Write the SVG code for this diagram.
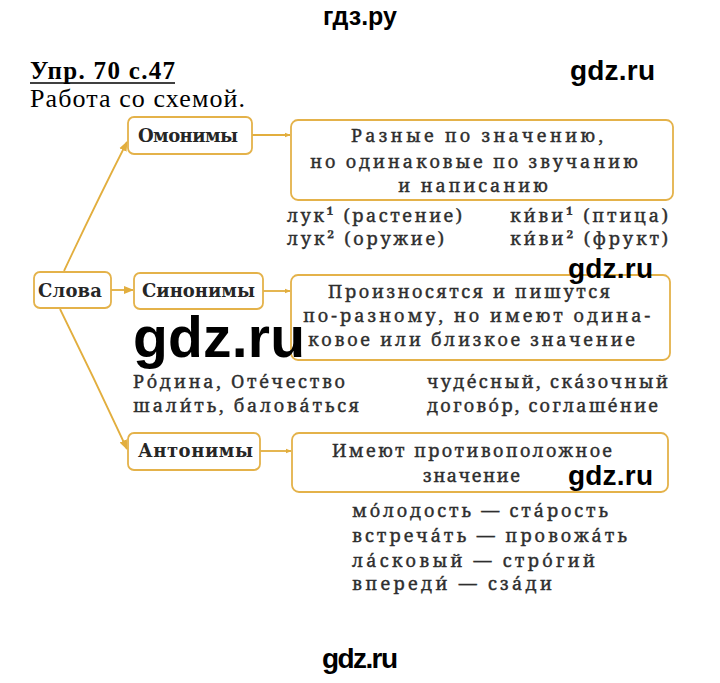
<svg xmlns="http://www.w3.org/2000/svg" width="720" height="683" viewBox="0 0 720 683">
<style>
.wm{font-family:"Liberation Sans",Arial,sans-serif;font-weight:bold;fill:#000}
.hd{font-family:"Liberation Serif","Times New Roman",serif;fill:#000}
.bx{fill:#fff;stroke:#e4b24a;stroke-width:1.8}
.lbl{font-family:"DejaVu Serif","Liberation Serif",serif;font-weight:bold;font-size:18px;fill:#262626}
.tx{font-family:"Noto Serif","Liberation Serif",serif;font-size:18px;fill:#2e2e2e;stroke:#2e2e2e;stroke-width:0.4}
.cn{fill:none;stroke:#e2ae3e;stroke-width:1.8}
</style>
<defs>
<marker id="ah" viewBox="0 0 10 10" refX="9" refY="5" markerWidth="10" markerHeight="10" markerUnits="userSpaceOnUse" orient="auto">
<path d="M0,1 L10,5 L0,9 Z" fill="#e2ae3e"/>
</marker>
<marker id="ahs" viewBox="0 0 10 10" refX="9" refY="5" markerWidth="6" markerHeight="6" markerUnits="userSpaceOnUse" orient="auto">
<path d="M0,1 L10,5 L0,9 Z" fill="#e2ae3e"/>
</marker>
</defs>
<rect width="720" height="683" fill="#fff"/>

<g id="header">
<text class="wm" x="360" y="25" font-size="25" text-anchor="middle" textLength="74">гдз.ру</text>
<text class="hd" x="30" y="79" font-size="25" font-weight="bold" textLength="145">Упр. 70 с.47</text>
<line x1="30" y1="83" x2="175" y2="83" stroke="#000" stroke-width="1.6"/>
<text class="wm" x="570" y="80" font-size="28" textLength="85">gdz.ru</text>
<text class="hd" x="30" y="107" font-size="26" textLength="215">Работа со схемой.</text>
</g>

<g id="connectors">
<path class="cn" d="M64,271 Q96,203 127,142" marker-end="url(#ah)"/>
<path class="cn" d="M60,309 Q94,378 127,449" marker-end="url(#ah)"/>
<line class="cn" x1="111" y1="290" x2="133" y2="290" marker-end="url(#ah)"/>
<line class="cn" x1="252" y1="135" x2="290" y2="135" marker-end="url(#ahs)"/>
<line class="cn" x1="263" y1="291" x2="290" y2="291" marker-end="url(#ahs)"/>
<line class="cn" x1="260" y1="451" x2="291" y2="451" marker-end="url(#ahs)"/>
</g>

<g id="node-slova">
<rect class="bx" x="34" y="272" width="77" height="36" rx="6"/>
<text class="lbl" x="38" y="297" textLength="64">Слова</text>
</g>
<g id="node-omonimy">
<rect class="bx" x="128" y="117" width="124" height="37" rx="6"/>
<text class="lbl" x="138" y="142" textLength="100">Омонимы</text>
</g>
<g id="node-sinonimy">
<rect class="bx" x="134" y="273" width="129" height="36" rx="6"/>
<text class="lbl" x="142" y="297" textLength="113">Синонимы</text>
</g>
<g id="node-antonimy">
<rect class="bx" x="128" y="433" width="132" height="37" rx="6"/>
<text class="lbl" x="138" y="457" textLength="115">Антонимы</text>
</g>

<g id="node-desc1">
<rect class="bx" x="291" y="120" width="382" height="80" rx="7"/>
<text class="tx" x="351" y="142" textLength="252">Разные по значению,</text>
<text class="tx" x="310" y="168" textLength="328">но одинаковые по звучанию</text>
<text class="tx" x="398" y="192" textLength="150">и написанию</text>
</g>
<g id="node-desc2">
<rect class="bx" x="291" y="275" width="379" height="85" rx="7"/>
<text class="tx" x="328" y="298" textLength="282">Произносятся и пишутся</text>
<text class="tx" x="303" y="322" textLength="347">по-разному, но имеют одина-</text>
<text class="tx" x="308" y="346" textLength="327">ковое или близкое значение</text>
</g>
<g id="node-desc3">
<rect class="bx" x="292" y="433" width="376" height="59" rx="7"/>
<text class="tx" x="332" y="457" textLength="280">Имеют противоположное</text>
<text class="tx" x="423" y="482" textLength="97">значение</text>
</g>

<g id="examples">
<text class="tx" x="287" y="222" textLength="175">лук¹ (растение)</text>
<text class="tx" x="287" y="245" textLength="157">лук² (оружие)</text>
<text class="tx" x="510" y="222" textLength="158">ки&#769;ви¹ (птица)</text>
<text class="tx" x="510" y="245" textLength="158">ки&#769;ви² (фрукт)</text>
<text class="tx" x="133" y="388" textLength="212">Ро&#769;дина, Оте&#769;чество</text>
<text class="tx" x="133" y="412" textLength="226">шали&#769;ть, балова&#769;ться</text>
<text class="tx" x="427" y="388" textLength="241">чуде&#769;сный, ска&#769;зочный</text>
<text class="tx" x="427" y="412" textLength="231">догово&#769;р, соглаше&#769;ние</text>
<text class="tx" x="352" y="517" textLength="256">мо&#769;лодость — ста&#769;рость</text>
<text class="tx" x="352" y="542" textLength="275">встреча&#769;ть — провожа&#769;ть</text>
<text class="tx" x="352" y="567" textLength="243">ла&#769;сковый — стро&#769;гий</text>
<text class="tx" x="352" y="590" textLength="200">впереди&#769; — сза&#769;ди</text>
</g>

<g id="watermarks">
<text class="wm" x="133" y="357" font-size="57" textLength="172">gdz.ru</text>
<text class="wm" x="568" y="278" font-size="28" textLength="85">gdz.ru</text>
<text class="wm" x="568" y="485" font-size="28" textLength="85">gdz.ru</text>
<text class="wm" x="322" y="668" font-size="28" textLength="76">gdz.ru</text>
</g>
</svg>
